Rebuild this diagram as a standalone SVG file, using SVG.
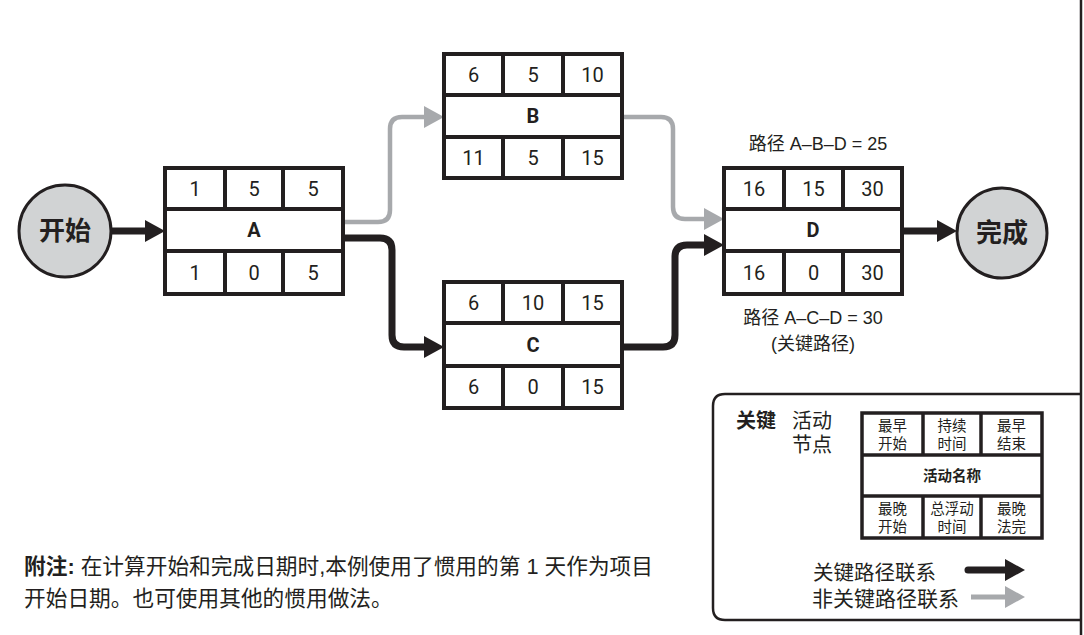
<svg xmlns="http://www.w3.org/2000/svg" width="1084" height="635" viewBox="0 0 1084 635">
<style>
.box{fill:#fff;stroke:#231f20;stroke-width:4}
.ln{stroke:#231f20;stroke-width:4}
.num{font-family:Roboto,"Liberation Sans",sans-serif;font-size:20px;fill:#231f20;text-anchor:middle}
.nm{font-family:Roboto,"Liberation Sans",sans-serif;font-size:20px;font-weight:bold;fill:#231f20;text-anchor:middle}
.cj{font-family:"Liberation Sans","Noto Sans CJK SC",sans-serif;fill:#231f20}
.circ{fill:#d1d3d4;stroke:#231f20;stroke-width:3}
.crit{fill:none;stroke:#231f20;stroke-width:7;marker-end:url(#ab)}
.non{fill:none;stroke:#a7a9ac;stroke-width:4.5;marker-end:url(#ag)}
.lg{fill:#fff;stroke:#231f20;stroke-width:3.5}
.lgl{stroke:#231f20;stroke-width:3.5}
.lt{font-family:"Noto Sans CJK SC",sans-serif;font-size:14.5px;fill:#231f20;text-anchor:middle}
</style>
<defs>
<marker id="ab" markerUnits="userSpaceOnUse" markerWidth="20" markerHeight="22" refX="0" refY="11" orient="auto" overflow="visible"><path d="M0,0 L20,11 L0,22 z" fill="#231f20"/></marker>
<marker id="ag" markerUnits="userSpaceOnUse" markerWidth="20" markerHeight="22" refX="0" refY="11" orient="auto" overflow="visible"><path d="M0,0 L20,11 L0,22 z" fill="#a7a9ac"/></marker>
</defs>
<rect width="1084" height="635" fill="#fff"/>
<line x1="1081" y1="0" x2="1081" y2="635" stroke="#231f20" stroke-width="2.5"/>

<g id="connectors">
<path class="crit" d="M111,231 H145"/>
<path class="non" d="M343,222 H378 Q390,222 390,210 V129 Q390,117 402,117 H424"/>
<path class="crit" d="M343,238 H380 Q392,238 392,250 V335 Q392,347 404,347 H424"/>
<path class="non" d="M622,117 H661 Q673,117 673,129 V207 Q673,219 685,219 H704"/>
<path class="crit" d="M622,347 H663 Q675,347 675,335 V257 Q675,245 687,245 H704"/>
<path class="crit" d="M902,231 H937"/>
</g>

<g id="start">
<circle class="circ" cx="65" cy="231" r="46"/>
<text class="cj" x="65" y="240" font-size="26" font-weight="bold" text-anchor="middle">开始</text>
</g>

<g id="finish">
<circle class="circ" cx="1002" cy="233" r="45"/>
<text class="cj" x="1002" y="242" font-size="26" font-weight="bold" text-anchor="middle">完成</text>
</g>

<g id="nodeA">
<rect class="box" x="165" y="168" width="178" height="126"/>
<line class="ln" x1="165" y1="209" x2="343" y2="209"/>
<line class="ln" x1="165" y1="251" x2="343" y2="251"/>
<line class="ln" x1="225" y1="168" x2="225" y2="209"/>
<line class="ln" x1="283" y1="168" x2="283" y2="209"/>
<line class="ln" x1="225" y1="251" x2="225" y2="294"/>
<line class="ln" x1="283" y1="251" x2="283" y2="294"/>
<text class="num" x="195" y="196">1</text><text class="num" x="254" y="196">5</text><text class="num" x="313" y="196">5</text>
<text class="nm" x="254" y="237">A</text>
<text class="num" x="195" y="280">1</text><text class="num" x="254" y="280">0</text><text class="num" x="313" y="280">5</text>
</g>

<g id="nodeB">
<rect class="box" x="444" y="54" width="178" height="124"/>
<line class="ln" x1="444" y1="95" x2="622" y2="95"/>
<line class="ln" x1="444" y1="137" x2="622" y2="137"/>
<line class="ln" x1="503" y1="54" x2="503" y2="95"/>
<line class="ln" x1="563" y1="54" x2="563" y2="95"/>
<line class="ln" x1="503" y1="137" x2="503" y2="178"/>
<line class="ln" x1="563" y1="137" x2="563" y2="178"/>
<text class="num" x="473.5" y="82">6</text><text class="num" x="533" y="82">5</text><text class="num" x="592.5" y="82">10</text>
<text class="nm" x="533" y="123">B</text>
<text class="num" x="473.5" y="165">11</text><text class="num" x="533" y="165">5</text><text class="num" x="592.5" y="165">15</text>
</g>

<g id="nodeC">
<rect class="box" x="444" y="282" width="178" height="126"/>
<line class="ln" x1="444" y1="323" x2="622" y2="323"/>
<line class="ln" x1="444" y1="366" x2="622" y2="366"/>
<line class="ln" x1="503" y1="282" x2="503" y2="323"/>
<line class="ln" x1="563" y1="282" x2="563" y2="323"/>
<line class="ln" x1="503" y1="366" x2="503" y2="408"/>
<line class="ln" x1="563" y1="366" x2="563" y2="408"/>
<text class="num" x="473.5" y="310">6</text><text class="num" x="533" y="310">10</text><text class="num" x="592.5" y="310">15</text>
<text class="nm" x="533" y="352">C</text>
<text class="num" x="473.5" y="394">6</text><text class="num" x="533" y="394">0</text><text class="num" x="592.5" y="394">15</text>
</g>

<g id="nodeD">
<rect class="box" x="724" y="168" width="178" height="126"/>
<line class="ln" x1="724" y1="209" x2="902" y2="209"/>
<line class="ln" x1="724" y1="251" x2="902" y2="251"/>
<line class="ln" x1="784" y1="168" x2="784" y2="209"/>
<line class="ln" x1="843" y1="168" x2="843" y2="209"/>
<line class="ln" x1="784" y1="251" x2="784" y2="294"/>
<line class="ln" x1="843" y1="251" x2="843" y2="294"/>
<text class="num" x="754" y="196">16</text><text class="num" x="813.5" y="196">15</text><text class="num" x="872.5" y="196">30</text>
<text class="nm" x="813" y="237">D</text>
<text class="num" x="754" y="280">16</text><text class="num" x="813.5" y="280">0</text><text class="num" x="872.5" y="280">30</text>
</g>

<g id="pathLabels">
<text class="cj" x="818" y="150" font-size="18" text-anchor="middle">路径 A–B–D = 25</text>
<text class="cj" x="813" y="324" font-size="18" text-anchor="middle">路径 A–C–D = 30</text>
<text class="cj" x="813" y="350" font-size="18" text-anchor="middle">(关键路径)</text>
</g>

<g id="legend">
<path d="M1081,394 H725 Q713,394 713,406 V608 Q713,620 725,620 H1081" fill="none" stroke="#231f20" stroke-width="2.5"/>
<text class="cj" x="736" y="428" font-size="20" font-weight="bold">关键</text>
<text class="cj" x="792" y="428" font-size="20">活动</text>
<text class="cj" x="792" y="452" font-size="20">节点</text>
<g id="legendNode">
<rect class="lg" x="862" y="413" width="180" height="125"/>
<line class="lgl" x1="862" y1="455" x2="1042" y2="455"/>
<line class="lgl" x1="862" y1="496" x2="1042" y2="496"/>
<line class="lgl" x1="923" y1="413" x2="923" y2="455"/>
<line class="lgl" x1="981" y1="413" x2="981" y2="455"/>
<line class="lgl" x1="923" y1="496" x2="923" y2="538"/>
<line class="lgl" x1="981" y1="496" x2="981" y2="538"/>
<text class="lt" x="892.5" y="431">最早</text><text class="lt" x="892.5" y="449">开始</text>
<text class="lt" x="952" y="431">持续</text><text class="lt" x="952" y="449">时间</text>
<text class="lt" x="1011.5" y="431">最早</text><text class="lt" x="1011.5" y="449">结束</text>
<text class="lt" x="952" y="481" font-weight="bold">活动名称</text>
<text class="lt" x="892.5" y="514">最晚</text><text class="lt" x="892.5" y="532">开始</text>
<text class="lt" x="952" y="514">总浮动</text><text class="lt" x="952" y="532">时间</text>
<text class="lt" x="1011.5" y="514">最晚</text><text class="lt" x="1011.5" y="532">法完</text>
</g>
<text class="cj" x="813" y="580" font-size="20.5">关键路径联系</text>
<text class="cj" x="812" y="606" font-size="21">非关键路径联系</text>
<path d="M968,570 H1005" fill="none" stroke="#231f20" stroke-width="7" stroke-linecap="round" marker-end="url(#ab)"/>
<path d="M971,597 H1005" fill="none" stroke="#a7a9ac" stroke-width="5" marker-end="url(#ag)"/>
</g>

<g id="note">
<text class="cj" x="24" y="574" font-size="21.7"><tspan font-weight="bold">附注:</tspan> 在计算开始和完成日期时,本例使用了惯用的第 1 天作为项目</text>
<text class="cj" x="24" y="606" font-size="21.7">开始日期。也可使用其他的惯用做法。</text>
</g>
</svg>
